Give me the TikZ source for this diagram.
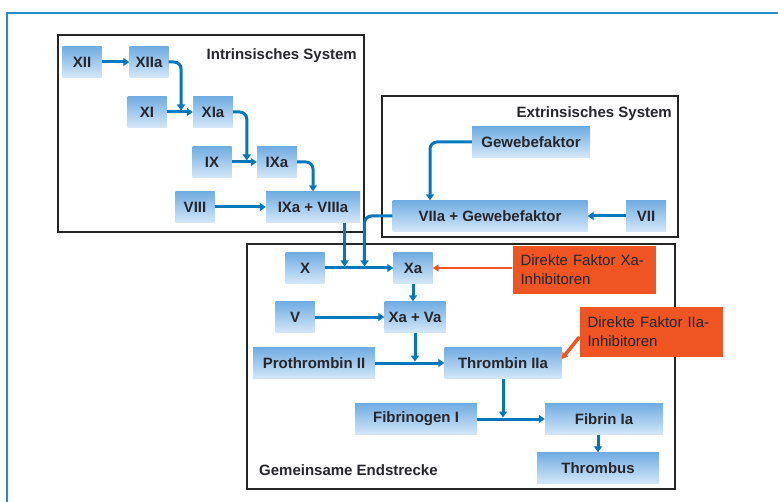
\documentclass[tikz,border=0pt]{standalone}
\usepackage{fontspec}
\setmainfont{Liberation Sans}
\usetikzlibrary{
  arrows.meta,
  calc,
  positioning
}
\definecolor{flowblue}{RGB}{0,120,190}
\definecolor{frameblue}{RGB}{35,140,210}
\definecolor{boxtop}{RGB}{112,172,226}
\definecolor{boxbottom}{RGB}{212,231,248}
\definecolor{inhiborange}{RGB}{238,85,35}
\definecolor{textgray}{RGB}{38,38,44}

\tikzset{
  factor/.style={top color=boxtop, bottom color=boxbottom, minimum height=31pt,
                 inner sep=0pt, text=textgray, font=\fontsize{15}{17}\selectfont\bfseries},
  inhib/.style={fill=inhiborange, text=textgray, align=left, inner xsep=8pt,
                inner ysep=0pt, text width=127pt, minimum height=48pt,
                font=\fontsize{15}{19}\selectfont},
  flow/.style={draw=flowblue, line width=3pt, rounded corners=7pt,
               -{Triangle[length=6pt,width=8pt]}},
  inhibflow/.style={draw=inhiborange, line width=2pt,
                    -{Triangle[length=6pt,width=7pt]}},
  frame/.style={draw=black!85, line width=1.6pt, fill=white},
  title/.style={text=textgray, inner sep=0pt, font=\fontsize{15}{17}\selectfont\bfseries}
}

\begin{document}
\begin{tikzpicture}[x=1pt, y=-1pt]
  \useasboundingbox (0,0) rectangle (778,502);

  % outer page frame
  \draw[frameblue, line width=2pt] (778,13) -- (7,13) -- (7,502);

  % system frames
  \draw[frame] (58,35) rectangle (364,232);
  \draw[frame] (382,96) rectangle (678,237);
  \draw[frame] (247,244) rectangle (675,489);

  \node[title, anchor=base east] (intrtitle) at (357,60) {Intrinsisches System};
  \node[title, anchor=base east] (extrtitle) at (672,118) {Extrinsisches System};
  \node[title, anchor=base west] (endtitle) at (259,475) {Gemeinsame Endstrecke};

  % intrinsic system
  \node[factor, minimum width=39pt] (XII) at (82,62) {XII};
  \node[factor, minimum width=39pt] (XIIa) at (149,62) {XIIa};
  \node[factor, minimum width=39pt] (XI) at (147,112) {XI};
  \node[factor, minimum width=40pt] (XIa) at (213,112) {XIa};
  \node[factor, minimum width=39pt] (IX) at (212,162) {IX};
  \node[factor, minimum width=40pt] (IXa) at (277,162) {IXa};
  \node[factor, minimum width=39pt] (VIII) at (195,207) {VIII};
  \node[factor, minimum width=94pt] (IXaVIIIa) at (313,207) {IXa + VIIIa};

  % extrinsic system
  \node[factor, minimum width=118pt] (gewebe) at (531,142) {Gewebefaktor};
  \node[factor, minimum width=195pt] (VIIaG) at (490,216) {VIIa + Gewebefaktor};
  \node[factor, minimum width=40pt] (VII) at (646,216) {VII};

  % common pathway
  \node[factor, minimum width=39pt] (X) at (305,268) {X};
  \node[factor, minimum width=39pt] (Xa) at (413,268) {Xa};
  \node[factor, minimum width=39pt] (V) at (295,317) {V};
  \node[factor, minimum width=61pt] (XaVa) at (415,317) {Xa + Va};
  \node[factor, minimum width=122pt] (prothr) at (314,363) {Prothrombin II};
  \node[factor, minimum width=117pt] (thromb) at (503,363) {Thrombin IIa};
  \node[factor, minimum width=122pt] (fibrinogen) at (416,419) {Fibrinogen I};
  \node[factor, minimum width=118pt] (fibrin) at (604,419) {Fibrin Ia};
  \node[factor, minimum width=122pt] (thrombus) at (598,468) {Thrombus};

  % inhibitors
  \node[inhib] (inhibXa) at (584,270) {Direkte Faktor Xa-\\Inhibitoren};
  \node[inhib, minimum height=50pt] (inhibIIa) at (651,332) {Direkte Faktor IIa-\\Inhibitoren};

  % junctions on the horizontal arrows
  \coordinate (jXIa) at ($(XI.east)!0.55!(XIa.west)$);
  \coordinate (jIXa) at ($(IX.east)!0.6!(IXa.west)$);
  \coordinate (jA) at ($(X.east)!0.29!(Xa.west)$);
  \coordinate (jB) at ($(X.east)!0.58!(Xa.west)$);
  \coordinate (jC) at (XaVa.south |- prothr.east);
  \coordinate (jD) at (thromb.south |- fibrinogen.east);

  % intrinsic arrows
  \draw[flow] (XII) -- (XIIa);
  \draw[flow] (XI) -- (XIa);
  \draw[flow] (IX) -- (IXa);
  \draw[flow] (VIII) -- (IXaVIIIa);
  \draw[flow, shorten >=1.5pt] (XIIa.east) -| (jXIa);
  \draw[flow, shorten >=1.5pt] (XIa.east) -| (jIXa);
  \draw[flow] (IXa.east) -| (IXaVIIIa.north);

  % extrinsic arrows
  \draw[flow] (VII) -- (VIIaG);
  \draw[flow] (gewebe.west) -| ($(VIIaG.north)+(-60,0)$);

  % common pathway arrows
  \draw[flow] (X) -- (Xa);
  \draw[flow, shorten >=1.5pt] (IXaVIIIa.south -| jA) -- (jA);
  \draw[flow, shorten >=1.5pt] (VIIaG.west) -| (jB);
  \draw[flow] (Xa.south) -- (Xa.south |- XaVa.north);
  \draw[flow] (V) -- (XaVa);
  \draw[flow, shorten >=1.5pt] (XaVa.south) -- (jC);
  \draw[flow] (prothr) -- (thromb);
  \draw[flow, shorten >=1.5pt] (thromb.south) -- (jD);
  \draw[flow] (fibrinogen) -- (fibrin);
  \draw[flow] (fibrin.south -| thrombus.north) -- (thrombus.north);

  % inhibitor arrows
  \draw[inhibflow] (inhibXa.west |- Xa.east) -- (Xa.east);
  \draw[inhibflow, line width=3.5pt] ($(inhibIIa.west)+(0,5)$) -- ($(thromb.east)+(0,-4)$);

\end{tikzpicture}
\end{document}
